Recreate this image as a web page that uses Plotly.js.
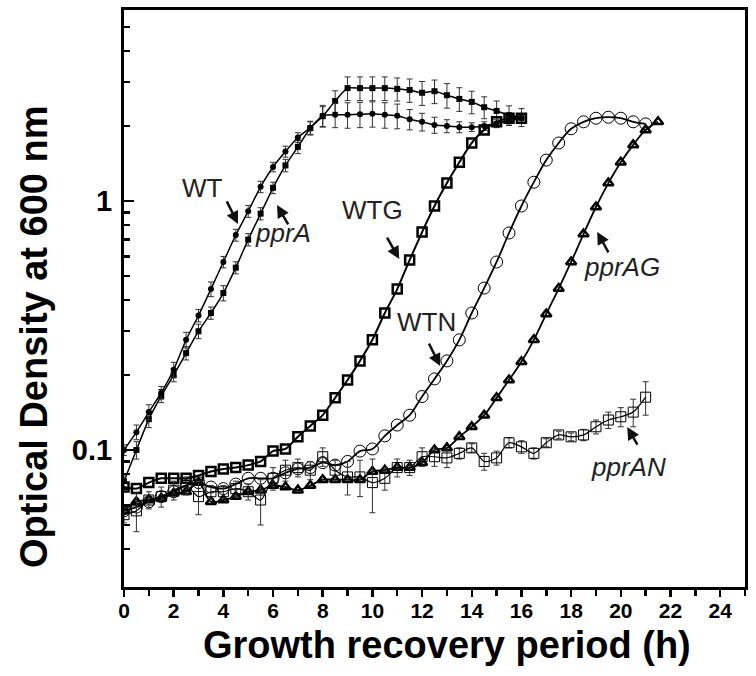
<!DOCTYPE html>
<html>
<head>
<meta charset="utf-8">
<script src="https://cdn.plot.ly/plotly-3.0.1.min.js"></script>
<style>html,body{margin:0;padding:0;background:#fff;}#chart{width:756px;height:676px;}</style>
</head>
<body>
<div id="chart"></div>
<script>
// Time points (h)
const tShort = [0,0.5,1,1.5,2,2.5,3,3.5,4,4.5,5,5.5,6,6.5,7,7.5,8,8.5,9,9.5,10,10.5,11,11.5,12,12.5,13,13.5,14,14.5,15,15.5,16];
const tLong = [0,0.5,1,1.5,2,2.5,3,3.5,4,4.5,5,5.5,6,6.5,7,7.5,8,8.5,9,9.5,10,10.5,11,11.5,12,12.5,13,13.5,14,14.5,15,15.5,16,16.5,17,17.5,18,18.5,19,19.5,20,20.5,21];
const tAG = [0,0.5,1,1.5,2,2.5,3,3.5,4,4.5,5,5.5,6,6.5,7,7.5,8,8.5,9,9.5,10,10.5,11,11.5,12,12.5,13,13.5,14,14.5,15,15.5,16,16.5,17,17.5,18,18.5,19,19.5,20,20.5,21,21.5];

// OD600 values
const WT = [0.100,0.118,0.142,0.170,0.210,0.277,0.347,0.443,0.569,0.730,0.910,1.14,1.37,1.58,1.80,1.97,2.20,2.22,2.22,2.23,2.24,2.22,2.20,2.13,2.08,2.02,2.00,1.98,1.98,2.00,2.05,2.10,2.15];
const WTerr = [0.005,0.008,0.01,0.01,0.015,0.02,0.02,0.03,0.03,0.04,0.05,0.06,0.06,0.08,0.08,0.12,0.22,0.25,0.26,0.26,0.26,0.26,0.25,0.2,0.17,0.15,0.12,0.1,0.08,0.08,0.08,0.06,0.05];
const pprA = [0.075,0.100,0.133,0.165,0.200,0.245,0.300,0.355,0.427,0.540,0.700,0.890,1.13,1.39,1.65,1.96,2.19,2.52,2.84,2.84,2.84,2.84,2.82,2.79,2.72,2.76,2.66,2.57,2.50,2.38,2.30,2.21,2.17];
const pprAerr = [0.005,0.008,0.01,0.01,0.012,0.015,0.02,0.02,0.03,0.03,0.04,0.05,0.06,0.08,0.1,0.12,0.2,0.25,0.31,0.31,0.31,0.31,0.3,0.3,0.3,0.3,0.3,0.28,0.26,0.24,0.22,0.2,0.18];
const WTG = [0.071,0.070,0.074,0.077,0.077,0.077,0.079,0.082,0.084,0.085,0.087,0.090,0.099,0.101,0.113,0.125,0.138,0.162,0.191,0.228,0.277,0.355,0.443,0.580,0.750,0.955,1.18,1.43,1.71,1.93,2.08,2.15,2.15];
const WTN = [0.057,0.059,0.062,0.065,0.068,0.072,0.074,0.071,0.070,0.073,0.077,0.077,0.077,0.081,0.084,0.085,0.089,0.087,0.090,0.099,0.101,0.114,0.126,0.138,0.164,0.193,0.228,0.277,0.355,0.447,0.569,0.744,0.955,1.19,1.46,1.71,1.95,2.08,2.15,2.17,2.15,2.08,2.04];
const pprAG = [0.057,0.062,0.063,0.064,0.067,0.068,0.074,0.062,0.063,0.065,0.068,0.069,0.072,0.071,0.069,0.072,0.076,0.076,0.076,0.076,0.082,0.083,0.085,0.085,0.089,0.100,0.102,0.113,0.124,0.138,0.162,0.191,0.226,0.277,0.352,0.445,0.569,0.737,0.946,1.18,1.43,1.68,1.93,2.08];
const pprAN = [0.055,0.057,0.063,0.065,0.069,0.072,0.065,0.068,0.068,0.070,0.068,0.063,0.077,0.083,0.085,0.083,0.094,0.083,0.078,0.078,0.074,0.077,0.085,0.085,0.094,0.094,0.093,0.097,0.102,0.090,0.093,0.107,0.103,0.097,0.107,0.115,0.113,0.115,0.124,0.132,0.136,0.142,0.163];
const pprANerr = [0.004,0.01,0.005,0.006,0.006,0.006,0.01,0.004,0.004,0.005,0.005,0.013,0.008,0.008,0.007,0.007,0.008,0.008,0.012,0.013,0.018,0.008,0.007,0.006,0.008,0.008,0.008,0.005,0.004,0.007,0.006,0.005,0.006,0.005,0.004,0.004,0.004,0.006,0.008,0.01,0.012,0.018,0.025];

// Tick labels
const xTicks = [0,2,4,6,8,10,12,14,16,18,20,22,24];
const yTicks = [0.1,1];
const yTickText = ['0.1','1'];
const yMinor = [0.04,0.05,0.06,0.07,0.08,0.09,0.2,0.3,0.4,0.5,0.6,0.7,0.8,0.9,2,3,4,5];
const xTitle = 'Growth recovery period (h)';
const yTitle = 'Optical Density at 600 nm';

const FONT = 'Liberation Sans, Arial, sans-serif';
const errStyle = (arr) => ({type:'data', array:arr, visible:true, color:'#333', thickness:1, width:3});
const lineBase = {color:'#000', width:1.5, shape:'spline', smoothing:0.6};

const traces = [
  {x:tShort, y:pprA, mode:'lines+markers', line:lineBase, error_y:errStyle(pprAerr),
   marker:{symbol:'square', size:6, color:'#000'}},
  {x:tShort, y:WT, mode:'lines+markers', line:lineBase, error_y:errStyle(WTerr),
   marker:{symbol:'circle', size:6, color:'#000'}},
  {x:tShort, y:WTG, mode:'lines+markers', line:{color:'#000', width:2, shape:'spline', smoothing:0.6},
   marker:{symbol:'square-open', size:9, color:'#000', line:{width:2.5, color:'#000'}}},
  {x:tLong, y:WTN, mode:'lines+markers', line:{color:'#000', width:1.8, shape:'spline', smoothing:1},
   marker:{symbol:'circle-open', size:12, color:'#000', line:{width:1, color:'#000'}}},
  {x:tAG, y:pprAG, mode:'lines+markers', line:{color:'#000', width:1.8, shape:'spline', smoothing:1},
   marker:{symbol:'triangle-up-open', size:9, color:'#000', line:{width:2.5, color:'#000'}}},
  {x:tLong, y:pprAN, mode:'lines+markers', line:{color:'#000', width:1.2, shape:'spline', smoothing:0.8},
   error_y:errStyle(pprANerr),
   marker:{symbol:'square-open', size:10, color:'#000', line:{width:1, color:'#000'}}}
];

const lab = (txt, x, ly, italic) => ({text: italic ? '<i>'+txt+'</i>' : txt, x:x, y:ly, xref:'x', yref:'y',
  showarrow:false, font:{family:FONT, size:26, color:'#222'}});
const arr = (x, ly, ax, ay) => ({text:'', x:x, y:ly, xref:'x', yref:'y', showarrow:true, ax:ax, ay:ay,
  arrowhead:2, arrowsize:1, arrowwidth:2.5, arrowcolor:'#111'});

const annotations = [
  lab('WT', 3.18, 0.052, false), arr(4.59, -0.092, -12, -24),
  lab('pprA', 6.4, -0.13, true), arr(6.16, -0.016, 12, 21),
  lab('WTG', 9.99, -0.036, false), arr(11.08, -0.233, -13, -23),
  lab('WTN', 12.16, -0.486, false), arr(12.73, -0.663, -12, -24),
  lab('pprAG', 20.06, -0.265, true), arr(19.05, -0.124, 12, 22),
  lab('pprAN', 20.3, -1.068, true), arr(20.26, -0.908, 11, 19),
  {text:'<b>'+xTitle+'</b>', xref:'paper', yref:'paper', x:0.52, y:-0.1, xanchor:'center', yanchor:'middle',
   showarrow:false, font:{family:FONT, size:38, color:'#000'}},
  {text:'<b>'+yTitle+'</b>', xref:'paper', yref:'paper', x:-0.145, y:0.435, xanchor:'center', yanchor:'middle',
   textangle:-90, showarrow:false, font:{family:FONT, size:38, color:'#000'}}
];

const layout = {
  width:756, height:676,
  margin:{l:124, r:11, t:10, b:89},
  paper_bgcolor:'#fff', plot_bgcolor:'#fff',
  showlegend:false,
  font:{family:FONT, color:'#000'},
  xaxis:{range:[0,25], tickvals:xTicks, ticks:'outside', ticklen:7, tickwidth:2.5, tickcolor:'#000',
    ticklabelstandoff:-4,
    showline:true, linewidth:3, linecolor:'#000', mirror:true, showgrid:false, zeroline:false,
    minor:{dtick:1, tick0:0, ticks:'outside', ticklen:6, tickwidth:2.5, tickcolor:'#000', showgrid:false},
    tickfont:{family:FONT, size:21, color:'#000', weight:'bold'}},
  yaxis:{type:'log', range:[-1.55, 0.767], tickmode:'array', tickvals:yTicks, ticktext:yTickText,
    ticks:'inside', ticklen:10, tickwidth:2.5, tickcolor:'#000', ticklabelstandoff:3,
    showline:true, linewidth:3, linecolor:'#000', mirror:true, showgrid:false, zeroline:false,
    minor:{tickmode:'array', tickvals:yMinor, ticks:'inside', ticklen:6, tickwidth:2.5, tickcolor:'#000', showgrid:false},
    tickfont:{family:FONT, size:29, color:'#000', weight:'bold'}},
  annotations:annotations
};

Plotly.newPlot('chart', traces, layout, {displayModeBar:false, staticPlot:true});
</script>
</body>
</html>
